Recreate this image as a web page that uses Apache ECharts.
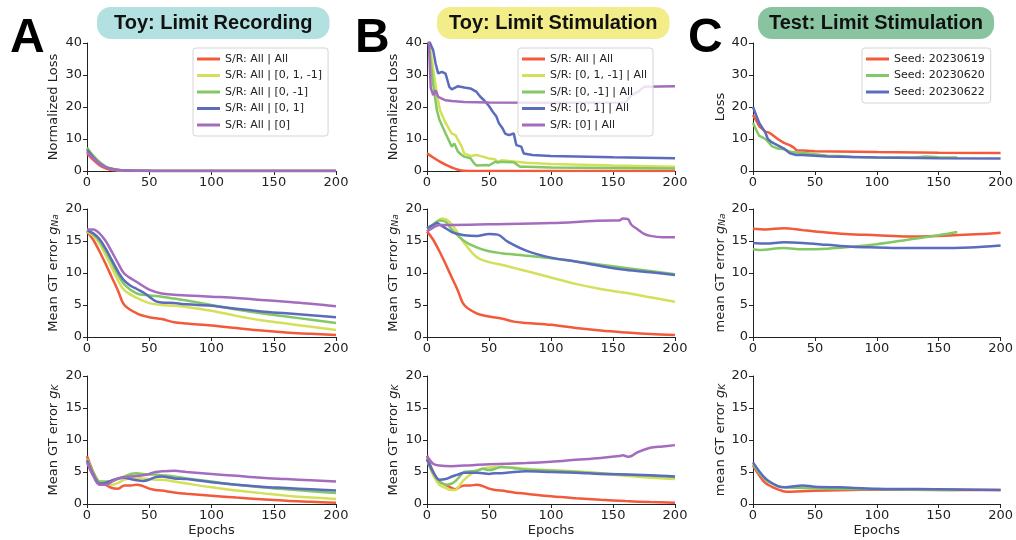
<!DOCTYPE html>
<html>
<head>
<meta charset="utf-8">
<script src="https://cdn.jsdelivr.net/npm/echarts@6/dist/echarts.min.js"></script>
<style>
  html, body { margin: 0; padding: 0; background: #fff; }
  #main { width: 1016px; height: 540px; }
</style>
</head>
<body>
<div id="main"></div>
<script>
// ---------- data ----------
const xTicks = [0, 50, 100, 150, 200];

// common epoch grid for smooth curves
const EP = [0, 5, 10, 15, 20, 25, 30, 40, 50, 60, 70, 80, 100, 120, 140, 160, 180, 200];
const EPK = [0, 5, 10, 15, 20, 25, 30, 35, 40, 45, 50, 55, 60, 70, 80, 100, 120, 140, 160, 180, 200];

// A: Toy limit recording - loss
const aLossRed = [5.5, 3.5, 1.8, 0.8, 0.3, 0.1, 0.05, 0, 0, 0, 0, 0, 0, 0, 0, 0, 0, 0];
const aLossYel = [7.0, 4.6, 2.6, 1.3, 0.6, 0.3, 0.15, 0.05, 0, 0, 0, 0, 0, 0, 0, 0, 0, 0];
const aLossGrn = [7.3, 4.8, 2.8, 1.4, 0.7, 0.35, 0.2, 0.1, 0.05, 0, 0, 0, 0, 0, 0, 0, 0, 0];
const aLossBlu = [6.6, 4.3, 2.4, 1.2, 0.6, 0.3, 0.15, 0.05, 0, 0, 0, 0, 0, 0, 0, 0, 0, 0];
const aLossPur = [6.0, 4.0, 2.3, 1.2, 0.6, 0.35, 0.2, 0.1, 0.05, 0, 0, 0, 0, 0, 0, 0, 0, 0];

// A: g_Na
const aNaRed = [16.5, 15.2, 13.4, 11.4, 9.3, 7.2, 5.0, 3.7, 3.1, 2.8, 2.3, 2.1, 1.8, 1.4, 1.0, 0.7, 0.5, 0.3];
const aNaYel = [16.5, 15.8, 14.6, 12.8, 10.8, 8.8, 7.3, 6.1, 5.3, 5.0, 4.9, 4.7, 4.1, 3.3, 2.6, 2.1, 1.6, 1.1];
const aNaGrn = [16.6, 16.0, 15.0, 13.4, 11.6, 9.7, 8.2, 6.8, 6.5, 6.3, 6.0, 5.7, 5.0, 4.3, 3.7, 3.2, 2.7, 2.2];
const aNaBluX = [0, 5, 10, 15, 20, 25, 30, 35, 40, 45, 50, 55, 60, 70, 80, 100, 120, 140, 160, 180, 200];
const aNaBlu = [16.7, 16.2, 15.3, 13.8, 12.0, 10.2, 8.8, 8.0, 7.5, 7.0, 6.3, 5.6, 5.4, 5.3, 5.1, 4.9, 4.4, 4.0, 3.7, 3.4, 3.1];
const aNaPur = [16.8, 16.8, 16.2, 15.0, 13.3, 11.5, 9.9, 8.6, 7.4, 6.8, 6.6, 6.5, 6.3, 6.1, 5.8, 5.5, 5.2, 4.8];

// A: g_K
const aKRed = [7.5, 5.0, 3.4, 3.0, 2.5, 2.4, 2.9, 2.9, 3.0, 2.8, 2.4, 2.2, 2.1, 1.8, 1.6, 1.3, 1.0, 0.75, 0.5, 0.35, 0.2];
const aKYel = [7.0, 4.8, 3.4, 3.2, 3.0, 3.3, 3.8, 4.0, 4.1, 4.0, 3.9, 3.8, 3.8, 3.5, 3.2, 2.6, 2.1, 1.7, 1.3, 1.0, 0.8];
const aKGrn = [7.0, 4.9, 3.5, 3.5, 3.6, 3.9, 4.3, 4.7, 4.8, 4.7, 4.6, 4.6, 4.5, 4.3, 4.0, 3.5, 3.0, 2.6, 2.3, 2.0, 1.7];
const aKBlu = [6.8, 4.6, 3.2, 3.3, 3.7, 4.0, 4.1, 3.9, 3.7, 3.6, 3.8, 4.2, 4.3, 4.0, 3.9, 3.4, 3.0, 2.7, 2.5, 2.3, 2.1];
const aKPur = [6.5, 4.4, 3.0, 3.0, 3.5, 4.0, 4.2, 4.3, 4.4, 4.5, 4.7, 5.0, 5.1, 5.2, 5.0, 4.7, 4.4, 4.1, 3.9, 3.7, 3.5];

// B: Toy limit stimulation - loss (stepwise)
const bLossRedX = [0, 5, 10, 15, 20, 25, 30, 50, 100, 150, 200];
const bLossRed = [5.5, 4.2, 3.0, 2.0, 1.1, 0.4, 0.1, 0, 0, 0, 0];
const bLossYelX = [0, 2, 5, 8, 10.5, 15, 20, 23, 25, 28, 30, 35, 40, 45, 50, 55, 57, 60, 80, 100, 150, 200];
const bLossYel = [48, 40, 32, 24, 19, 15, 11.7, 11.2, 9.7, 7.6, 5.5, 4.7, 5.0, 4.5, 3.9, 3.7, 2.4, 3.4, 2.6, 2.2, 1.7, 1.35];
const bLossGrnX = [0, 2, 5, 8, 10, 15, 20, 22, 25, 28, 30, 35, 38, 40, 48, 50, 55, 70, 75, 80, 100, 200];
const bLossGrn = [48, 38, 27, 19, 16, 11.7, 7.6, 8.6, 6, 5, 4.5, 4, 2.4, 1.7, 1.9, 1.7, 2.9, 2.7, 1.35, 1.3, 1.1, 0.8];
const bLossBluX = [0, 2.4, 5, 7, 9, 12, 15, 18, 20, 25, 30, 35, 40, 43, 46, 50, 53, 56, 58, 61, 63, 66, 70, 72, 76, 78, 85, 100, 150, 200];
const bLossBlu = [48, 40, 37.7, 33.5, 30.5, 31, 30.4, 26.3, 25.5, 26.5, 26.1, 25.8, 24.7, 23.2, 22.1, 20.3, 18.5, 17, 14.9, 13.3, 11.7, 11.2, 11.7, 8.1, 7.6, 5.5, 5, 4.7, 4.3, 4.0];
const bLossPurX = [0, 1.5, 3, 5, 7, 9, 12, 15, 20, 30, 50, 100, 160, 165, 170, 175, 200];
const bLossPur = [46, 40, 26, 23.7, 25.2, 23.2, 22.6, 22.1, 21.9, 21.6, 21.4, 21.3, 21.4, 23.7, 24.7, 26.3, 26.5];

// B: g_Na
const bNaRed = [16.5, 15.2, 13.4, 11.4, 9.3, 7.2, 5.0, 3.7, 3.2, 2.9, 2.4, 2.2, 1.9, 1.4, 1.0, 0.7, 0.45, 0.3];
const bNaYelX = [0, 5, 10, 13, 20, 30, 40, 50, 60, 70, 80, 100, 120, 140, 160, 180, 200];
const bNaYel = [16.5, 17.5, 18.3, 18.5, 17.6, 14.7, 12.5, 11.7, 11.3, 10.8, 10.3, 9.3, 8.3, 7.5, 6.9, 6.2, 5.5];
const bNaGrnX = [0, 5, 10, 15, 20, 30, 40, 50, 60, 70, 80, 100, 120, 140, 160, 180, 200];
const bNaGrn = [17.0, 17.6, 18.2, 18.0, 16.8, 15.0, 14.0, 13.4, 13.1, 12.9, 12.7, 12.3, 11.8, 11.3, 10.8, 10.3, 9.8];
const bNaBluX = [0, 5, 8, 10, 15, 20, 25, 30, 40, 50, 57, 65, 80, 100, 120, 140, 160, 180, 200];
const bNaBlu = [17.0, 17.5, 17.8, 17.6, 17.0, 16.4, 16.1, 15.9, 15.8, 16.1, 16.0, 14.9, 13.5, 12.4, 11.8, 11.1, 10.5, 10.1, 9.7];
const bNaPurX = [0, 5, 10, 20, 50, 100, 150, 155, 158, 162, 165, 170, 175, 180, 190, 200];
const bNaPur = [16.5, 17.1, 17.5, 17.5, 17.6, 17.8, 18.2, 18.2, 18.5, 18.4, 17.5, 16.8, 16.1, 15.8, 15.6, 15.6];

// B: g_K
const bKX = [0, 5, 10, 15, 20, 23, 25, 30, 35, 40, 45, 50, 55, 60, 70, 80, 100, 120, 140, 160, 180, 200];
const bKRed = [7.5, 5.0, 3.5, 3.0, 2.5, 2.3, 2.5, 2.9, 2.9, 3.0, 2.8, 2.4, 2.2, 2.1, 1.8, 1.6, 1.2, 0.9, 0.65, 0.45, 0.3, 0.2];
const bKYel = [7.0, 4.5, 3.0, 2.5, 2.2, 2.2, 2.6, 3.8, 4.6, 5.2, 5.5, 5.7, 5.8, 5.8, 5.7, 5.5, 5.3, 5.1, 4.8, 4.4, 4.1, 3.9];
const bKGrn = [7.0, 4.8, 3.6, 3.0, 3.2, 3.6, 4.0, 5.0, 5.1, 5.2, 5.5, 5.3, 5.5, 5.8, 5.6, 5.4, 5.2, 5.0, 4.8, 4.6, 4.4, 4.2];
const bKBlu = [7.0, 5.0, 3.8, 3.9, 4.3, 4.5, 4.6, 4.9, 4.9, 4.9, 4.8, 4.7, 4.8, 4.8, 5.0, 5.1, 5.0, 4.9, 4.7, 4.6, 4.5, 4.3];
const bKPurX = [0, 5, 10, 20, 30, 50, 80, 100, 120, 140, 155, 158, 162, 165, 170, 180, 190, 200];
const bKPur = [7.5, 6.3, 6.0, 5.9, 6.0, 6.2, 6.4, 6.6, 6.9, 7.2, 7.5, 7.6, 7.4, 7.5, 8.1, 8.8, 9.0, 9.2];

// C: Test limit stimulation - loss
const cLossRedX = [0, 3, 5, 8, 10, 13, 15, 20, 25, 30, 33, 35, 40, 50, 100, 150, 200];
const cLossRed = [17.5, 15.5, 14, 13, 12.3, 12, 11.5, 10, 8.8, 8, 7.3, 6.5, 6.4, 6.2, 5.9, 5.7, 5.6];
const cLossGrnX = [0, 3, 5, 8, 10, 13, 15, 20, 25, 30, 35, 40, 50, 60, 70, 80, 100, 130, 140, 150, 165];
const cLossGrn = [15, 12.5, 11, 10.4, 10, 8.8, 7.8, 7, 6.8, 6.0, 5.8, 5.7, 5.2, 4.8, 4.7, 4.4, 4.3, 4.2, 4.5, 4.3, 4.2];
const cLossBluX = [0, 5, 10, 12, 15, 20, 25, 30, 35, 40, 50, 60, 80, 100, 150, 200];
const cLossBlu = [20, 15, 12, 10, 9, 8, 7, 5.5, 5, 5, 4.8, 4.5, 4.4, 4.2, 4.0, 3.9];

// C: g_Na
const cNaRedX = [0, 10, 25, 40, 50, 75, 100, 125, 150, 175, 200];
const cNaRed = [16.9, 16.8, 17.0, 16.7, 16.5, 16.1, 15.9, 15.7, 15.8, 16.0, 16.3];
const cNaGrnX = [0, 5, 25, 40, 60, 80, 100, 125, 150, 165];
const cNaGrn = [13.7, 13.6, 13.9, 13.7, 13.8, 14.1, 14.5, 15.2, 15.9, 16.4];
const cNaBluX = [0, 10, 25, 40, 60, 80, 100, 125, 150, 175, 200];
const cNaBlu = [14.7, 14.6, 14.8, 14.7, 14.4, 14.1, 14.0, 13.9, 13.9, 14.0, 14.3];

// C: g_K
const cKRedX = [0, 5, 10, 20, 27, 40, 60, 80, 100, 150, 200];
const cKRed = [6.0, 4.5, 3.3, 2.3, 1.9, 2.0, 2.1, 2.2, 2.25, 2.2, 2.2];
const cKGrnX = [0, 10, 20, 25, 40, 60, 100, 165];
const cKGrn = [6.2, 3.8, 2.8, 2.6, 2.5, 2.4, 2.3, 2.2];
const cKBluX = [0, 10, 20, 25, 30, 40, 50, 70, 100, 150, 200];
const cKBlu = [6.5, 4.0, 2.8, 2.6, 2.7, 2.9, 2.7, 2.6, 2.4, 2.3, 2.2];

const namesA = ['S/R: All | All', 'S/R: All | [0, 1, -1]', 'S/R: All | [0, -1]', 'S/R: All | [0, 1]', 'S/R: All | [0]'];
const namesB = ['S/R: All | All', 'S/R: [0, 1, -1] | All', 'S/R: [0, -1] | All', 'S/R: [0, 1] | All', 'S/R: [0] | All'];
const namesC = ['Seed: 20230619', 'Seed: 20230620', 'Seed: 20230622'];

// ---------- styling / layout ----------
const RED = '#f25a3b', YEL = '#d5e05a', GRN = '#82c864', BLU = '#5a6cbb', PUR = '#a56cbe';
const FONT = 'DejaVu Sans';
const colLeft = [87, 427, 753];
const colWidth = [249, 248, 249];
const rowTop = [43, 209, 376];
const rowH = 128;

const chart = echarts.init(document.getElementById('main'));

const grids = [], xAxes = [], yAxes = [];
const yNames = [
  ['Normalized Loss', 'Normalized Loss', 'Loss'],
  ['Mean GT error {g|g}{s|Na}', 'Mean GT error {g|g}{s|Na}', 'mean GT error {g|g}{s|Na}'],
  ['Mean GT error {g|g}{s|K}', 'Mean GT error {g|g}{s|K}', 'mean GT error {g|g}{s|K}']
];
for (let r = 0; r < 3; r++) {
  for (let c = 0; c < 3; c++) {
    const i = r * 3 + c;
    grids.push({ left: colLeft[c], top: rowTop[r], width: colWidth[c], height: rowH });
    xAxes.push({
      gridIndex: i, type: 'value', min: 0, max: 200, interval: 50,
      name: r === 2 ? 'Epochs' : '', nameLocation: 'middle', nameGap: 20,
      nameTextStyle: { fontFamily: FONT, fontSize: 13, color: '#222' },
      axisLine: { show: true, onZero: false, lineStyle: { color: '#222', width: 1 } },
      axisTick: { show: true, length: 4, lineStyle: { color: '#222' } },
      axisLabel: { fontFamily: FONT, fontSize: 13, color: '#222', margin: 5 },
      splitLine: { show: false }
    });
    yAxes.push({
      gridIndex: i, type: 'value', min: 0, max: r === 0 ? 40 : 20, interval: r === 0 ? 10 : 5,
      name: yNames[r][c], nameLocation: 'middle', nameRotate: 90,
      nameGap: c === 2 ? 25 : 27,
      nameTextStyle: {
        fontFamily: FONT, fontSize: 13, color: '#222',
        rich: {
          g: { fontFamily: FONT, fontSize: 13, fontStyle: 'italic', color: '#222' },
          s: { fontFamily: FONT, fontSize: 9, fontStyle: 'italic', color: '#222', verticalAlign: 'bottom', lineHeight: 13 }
        }
      },
      axisLine: { show: true, lineStyle: { color: '#222', width: 1 } },
      axisTick: { show: true, length: 4, lineStyle: { color: '#222' } },
      axisLabel: { fontFamily: FONT, fontSize: 13, color: '#222', margin: 5 },
      splitLine: { show: false }
    });
  }
}

function line(name, color, xs, ys, idx, smooth) {
  return {
    name: name, type: 'line', xAxisIndex: idx, yAxisIndex: idx,
    data: xs.map(function (x, k) { return [x, ys[k]]; }),
    showSymbol: false, symbol: 'none', clip: true,
    smooth: smooth === false ? false : 0.35,
    lineStyle: { width: 2.5, color: color },
    itemStyle: { color: color }
  };
}

const series = [
  // row 1
  line(namesA[0], RED, EP, aLossRed, 0), line(namesA[1], YEL, EP, aLossYel, 0),
  line(namesA[2], GRN, EP, aLossGrn, 0), line(namesA[3], BLU, EP, aLossBlu, 0),
  line(namesA[4], PUR, EP, aLossPur, 0),
  line(namesB[0], RED, bLossRedX, bLossRed, 1), line(namesB[1], YEL, bLossYelX, bLossYel, 1, false),
  line(namesB[2], GRN, bLossGrnX, bLossGrn, 1, false), line(namesB[3], BLU, bLossBluX, bLossBlu, 1, false),
  line(namesB[4], PUR, bLossPurX, bLossPur, 1, false),
  line(namesC[0], RED, cLossRedX, cLossRed, 2, false), line(namesC[1], GRN, cLossGrnX, cLossGrn, 2, false),
  line(namesC[2], BLU, cLossBluX, cLossBlu, 2, false),
  // row 2
  line(namesA[0], RED, EP, aNaRed, 3), line(namesA[1], YEL, EP, aNaYel, 3),
  line(namesA[2], GRN, EP, aNaGrn, 3), line(namesA[3], BLU, aNaBluX, aNaBlu, 3),
  line(namesA[4], PUR, EP, aNaPur, 3),
  line(namesB[0], RED, EP, bNaRed, 4), line(namesB[1], YEL, bNaYelX, bNaYel, 4),
  line(namesB[2], GRN, bNaGrnX, bNaGrn, 4), line(namesB[3], BLU, bNaBluX, bNaBlu, 4),
  line(namesB[4], PUR, bNaPurX, bNaPur, 4),
  line(namesC[0], RED, cNaRedX, cNaRed, 5), line(namesC[1], GRN, cNaGrnX, cNaGrn, 5),
  line(namesC[2], BLU, cNaBluX, cNaBlu, 5),
  // row 3
  line(namesA[0], RED, EPK, aKRed, 6), line(namesA[1], YEL, EPK, aKYel, 6),
  line(namesA[2], GRN, EPK, aKGrn, 6), line(namesA[3], BLU, EPK, aKBlu, 6),
  line(namesA[4], PUR, EPK, aKPur, 6),
  line(namesB[0], RED, bKX, bKRed, 7), line(namesB[1], YEL, bKX, bKYel, 7),
  line(namesB[2], GRN, bKX, bKGrn, 7), line(namesB[3], BLU, bKX, bKBlu, 7),
  line(namesB[4], PUR, bKPurX, bKPur, 7),
  line(namesC[0], RED, cKRedX, cKRed, 8), line(namesC[1], GRN, cKGrnX, cKGrn, 8),
  line(namesC[2], BLU, cKBluX, cKBlu, 8)
];

function legend(names, left) {
  return {
    data: names, orient: 'vertical', left: left, top: 48,
    icon: 'rect', itemWidth: 23, itemHeight: 3, itemGap: 2.5, itemTextGap: 8,
    padding: [4, 6, 4, 4],
    backgroundColor: 'rgba(255,255,255,0.8)', borderColor: '#d4d4d4', borderWidth: 1, borderRadius: 3,
    textStyle: { fontFamily: FONT, fontSize: 11, color: '#222', lineHeight: 14 },
    selectedMode: false
  };
}

function panelTitle(text, left, bg, padH) {
  return {
    text: text, left: left, top: 7, padding: [6, padH], backgroundColor: bg, borderRadius: 14,
    textStyle: { fontFamily: 'Liberation Sans', fontSize: 20, fontWeight: 'bold', color: '#111', lineHeight: 20 }
  };
}

function letter(text, left) {
  return {
    text: text, left: left, top: 15, padding: 0,
    textStyle: { fontFamily: 'Liberation Sans', fontSize: 48, fontWeight: 'bold', color: '#000', lineHeight: 48 }
  };
}

chart.setOption({
  animation: false,
  backgroundColor: '#fff',
  title: [
    letter('A', 10), letter('B', 355), letter('C', 688),
    panelTitle('Toy: Limit Recording', 97, '#b3e0e0', 17),
    panelTitle('Toy: Limit Stimulation', 437, '#f2ed88', 12),
    panelTitle('Test: Limit Stimulation', 758, '#88c4a0', 11)
  ],
  legend: [legend(namesA, 193), legend(namesB, 518), legend(namesC, 862)],
  grid: grids,
  xAxis: xAxes,
  yAxis: yAxes,
  series: series
});
</script>
</body>
</html>
